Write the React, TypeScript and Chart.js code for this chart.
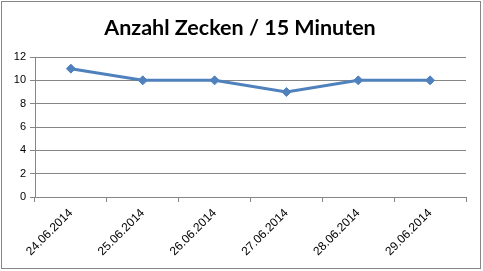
import React, { useEffect, useRef } from "react";
import { Chart, registerables } from "chart.js";

Chart.register(...registerables);

const categories = ["24.06.2014", "25.06.2014", "26.06.2014", "27.06.2014", "28.06.2014", "29.06.2014"];
const values = [11, 10, 10, 9, 10, 10];
const titleText = "Anzahl Zecken / 15 Minuten";
const yMin = 0;
const yMax = 12;
const yStep = 2;

const titlePlugin = {
  id: "centerTitle",
  afterDraw(chart: any) {
    const ctx = chart.ctx;
    ctx.save();
    ctx.font = "bold 21.5px Lato";
    ctx.fillStyle = "#000";
    ctx.textAlign = "center";
    ctx.textBaseline = "alphabetic";
    ctx.fillText(titleText, 240, 35);
    ctx.restore();
  },
};

export default function App() {
  const ref = useRef<HTMLCanvasElement | null>(null);
  useEffect(() => {
    document.body.style.margin = "0";
    const chart = new Chart(ref.current as HTMLCanvasElement, {
      type: "line",
      data: {
        labels: categories,
        datasets: [
          {
            data: values,
            borderColor: "#4F81BD",
            backgroundColor: "#4F81BD",
            borderWidth: 3,
            pointStyle: "rectRot",
            pointRadius: 4.5,
            pointBorderWidth: 1,
            tension: 0,
          },
        ],
      },
      plugins: [titlePlugin],
      options: {
        responsive: false,
        animation: false,
        layout: { padding: { left: 0, right: 17, top: 57, bottom: 0 } },
        plugins: {
          legend: { display: false },
          tooltip: { enabled: false },
          title: { display: false },
        },
        scales: {
          x: {
            type: "category",
            offset: true,
            grid: {
              offset: true,
              drawOnChartArea: false,
              drawTicks: true,
              tickLength: 5,
              color: "#868686",
            },
            border: { display: true, color: "#868686", width: 1 },
            ticks: {
              color: "#000",
              font: { family: "Liberation Sans", size: 12 },
              maxRotation: 45,
              minRotation: 45,
              padding: 4,
            },
            afterFit: (s: any) => {
              s.height = 74;
            },
          },
          y: {
            min: yMin,
            max: yMax,
            ticks: {
              stepSize: yStep,
              color: "#000",
              font: { family: "Liberation Sans", size: 11 },
              padding: 4,
            },
            grid: {
              color: "#868686",
              drawTicks: true,
              tickLength: 5,
            },
            border: { display: true, color: "#868686", width: 1 },
            afterFit: (s: any) => {
              s.width = 35;
            },
          },
        },
      },
    });
    return () => chart.destroy();
  }, []);
  return (
    <div style={{ position: "absolute", left: 0, top: 0, width: 483, height: 271 }}>
      <div
        style={{
          position: "absolute",
          left: 1,
          top: 1,
          width: 480,
          height: 268,
          boxSizing: "border-box",
          border: "1px solid #868686",
        }}
      />
      <canvas ref={ref} width={483} height={271} style={{ position: "absolute", left: 0, top: 0 }} />
    </div>
  );
}
